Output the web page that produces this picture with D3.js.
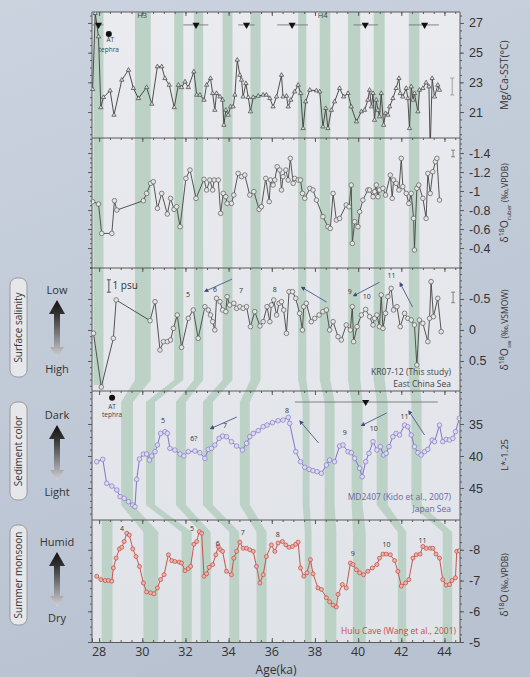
<!DOCTYPE html>
<html>
<head>
<meta charset="utf-8">
<script src="https://cdn.jsdelivr.net/npm/d3@7"></script>
<style>
  body { margin: 0; background: #c5cedb; }
  svg { display: block; font-family: "Open Sans", "Noto Sans", sans-serif; }
</style>
</head>
<body>
<svg id="chart" width="530" height="677"></svg>
<script>
// ---- values ----
const ageTicks = [28, 30, 32, 34, 36, 38, 40, 42, 44]

// Mg/Ca-SST (degC), KR07-12
const sstData = [[27.70,22.53],[27.82,27.65],[27.97,26.08],[28.08,21.31],[28.20,21.99],[28.51,22.44],[28.69,20.80],[29.05,23.16],[29.36,23.83],[29.59,22.60],[29.82,21.92],[30.20,22.66],[30.44,21.54],[30.70,24.06],[30.90,24.06],[31.05,23.27],[31.25,22.82],[31.48,21.31],[31.67,22.82],[31.82,22.66],[31.98,23.04],[32.13,22.66],[32.39,23.72],[32.52,22.15],[32.67,22.15],[32.86,21.81],[32.98,22.82],[33.16,23.27],[33.26,22.26],[33.36,21.13],[33.44,22.26],[33.60,22.03],[33.72,21.81],[33.78,20.12],[33.87,21.13],[33.98,20.80],[34.09,21.36],[34.21,21.36],[34.29,22.15],[34.40,24.51],[34.52,23.49],[34.60,23.16],[34.67,22.03],[34.80,22.93],[34.91,21.99],[35.01,21.03],[35.14,21.99],[35.37,22.08],[35.60,22.15],[35.75,22.15],[35.91,21.92],[36.06,21.36],[36.22,22.03],[36.45,23.49],[36.52,22.03],[36.68,22.08],[36.76,21.36],[36.88,21.81],[37.06,22.37],[37.22,22.82],[37.34,22.26],[37.45,19.90],[37.57,21.70],[37.76,22.48],[38.07,22.44],[38.22,22.37],[38.37,20.01],[38.50,21.25],[38.60,19.90],[38.76,21.13],[38.91,21.70],[39.14,22.60],[39.33,22.03],[39.53,22.26],[39.68,21.36],[39.92,20.35],[40.15,21.03],[40.30,21.13],[40.45,21.81],[40.53,22.48],[40.62,21.36],[40.69,22.26],[40.76,20.46],[40.84,21.81],[40.92,21.13],[40.99,20.69],[41.07,22.26],[41.18,20.12],[41.27,20.91],[41.38,20.80],[41.46,21.36],[41.61,21.92],[41.76,22.60],[41.89,23.27],[41.95,22.26],[42.07,22.03],[42.23,22.60],[42.30,21.92],[42.38,19.90],[42.46,22.71],[42.54,21.81],[42.61,22.26],[42.77,21.03],[42.84,22.48],[43.00,22.60],[43.15,22.98],[43.28,22.71],[43.34,18.50],[43.43,23.27],[43.54,22.03],[43.69,22.82],[43.77,22.48]]

// d18O G. ruber (permil VPDB)
const ruberData = [[27.70,-0.888],[27.97,-0.863],[28.12,-0.554],[28.59,-0.554],[28.71,-0.898],[28.82,-0.80],[30.05,-0.898],[30.20,-0.975],[30.39,-1.081],[30.51,-1.098],[30.70,-0.818],[30.90,-0.975],[31.16,-0.758],[31.31,-0.923],[31.47,-0.807],[31.59,-0.835],[31.75,-0.625],[32.02,-1.133],[32.21,-1.221],[32.49,-0.923],[32.86,-1.123],[32.98,-1.011],[33.13,-1.116],[33.26,-1.011],[33.33,-1.116],[33.52,-1.116],[33.63,-0.765],[33.75,-0.975],[33.87,-0.940],[33.93,-0.870],[34.13,-0.870],[34.24,-0.958],[34.44,-1.186],[34.60,-1.151],[34.75,-1.168],[34.98,-0.958],[35.17,-0.993],[35.41,-0.807],[35.52,-0.835],[35.72,-1.133],[35.88,-0.888],[35.94,-1.116],[36.06,-1.063],[36.14,-1.116],[36.25,-1.256],[36.37,-1.221],[36.45,-1.011],[36.52,-1.151],[36.65,-1.221],[36.76,-1.116],[36.86,-1.344],[36.99,-1.081],[37.06,-1.133],[37.22,-1.116],[37.33,-1.116],[37.42,-0.975],[37.53,-0.923],[37.76,-1.028],[37.91,-1.011],[38.07,-0.905],[38.37,-0.730],[38.60,-0.625],[38.71,-0.607],[38.84,-0.975],[38.99,-0.695],[39.14,-0.712],[39.45,-0.853],[39.58,-0.835],[39.68,-1.063],[39.73,-0.449],[39.84,-0.677],[39.99,-0.625],[40.07,-0.782],[40.22,-0.905],[40.45,-1.011],[40.53,-1.011],[40.69,-0.940],[40.76,-0.993],[40.84,-1.063],[40.92,-0.940],[40.99,-1.011],[41.15,-1.028],[41.27,-0.958],[41.49,-1.168],[41.58,-0.923],[41.64,-1.116],[41.76,-1.081],[41.89,-1.011],[42.00,-1.344],[42.07,-1.046],[42.23,-0.975],[42.35,-0.870],[42.46,-0.975],[42.57,-0.712],[42.61,-0.379],[42.72,-1.028],[42.81,-1.063],[43.00,-0.923],[43.15,-0.712],[43.23,-1.186],[43.34,-0.975],[43.46,-1.203],[43.58,-1.309],[43.65,-1.344],[43.77,-0.905]]

// d18O seawater (permil VSMOW)
const swData = [[27.74,0.054],[28.10,0.92],[28.66,0.134],[28.79,-0.484],[30.36,-0.151],[30.59,-0.457],[30.82,0.323],[30.98,0.188],[31.16,0.188],[31.31,0.161],[31.44,-0.027],[31.62,-0.242],[31.82,0.280],[32.13,-0.188],[32.36,-0.323],[32.59,0.134],[32.90,-0.376],[33.06,-0.323],[33.16,-0.242],[33.26,-0.134],[33.36,0],[33.44,-0.511],[33.60,-0.457],[33.72,-0.323],[33.87,-0.296],[33.93,-0.538],[34.05,-0.403],[34.24,-0.430],[34.37,-0.349],[34.52,-0.376],[34.67,-0.349],[34.83,-0.376],[35.01,-0.054],[35.21,-0.296],[35.45,-0.065],[35.60,-0.134],[35.78,-0.376],[35.91,-0.134],[35.98,-0.403],[36.09,-0.484],[36.22,-0.242],[36.34,-0.430],[36.45,-0.457],[36.55,-0.323],[36.68,0.054],[36.80,-0.618],[36.96,-0.618],[37.11,-0.511],[37.29,-0.269],[37.42,0],[37.48,-0.376],[37.60,-0.430],[37.83,-0.134],[37.99,-0.188],[38.19,-0.242],[38.37,-0.296],[38.53,-0.323],[38.68,0],[38.84,-0.134],[39.07,0.108],[39.22,0.161],[39.45,-0.081],[39.64,0],[39.73,-0.376],[39.79,0.188],[39.95,-0.054],[40.15,-0.242],[40.35,-0.333],[40.53,-0.215],[40.69,-0.081],[40.76,-0.188],[40.87,-0.242],[40.99,-0.054],[41.07,-0.565],[41.15,-0.027],[41.27,-0.269],[41.38,-0.538],[41.53,-0.672],[41.64,-0.323],[41.80,-0.376],[41.95,-0.054],[42.15,-0.269],[42.30,-0.188],[42.46,-0.161],[42.61,-0.081],[42.72,0.565],[42.84,-0.161],[43.00,-0.108],[43.23,0.188],[43.31,-0.188],[43.38,-0.780],[43.49,-0.215],[43.69,-0.511],[43.85,0.027]]

// sediment colour L*, MD2407
const lstarData = [[27.89,40.89],[28.17,40.52],[28.35,44.27],[28.59,44.69],[28.82,45.31],[28.97,46.35],[29.16,46.61],[29.36,47.14],[29.56,47.66],[29.66,47.92],[29.74,43.65],[29.87,40.47],[30.05,39.69],[30.20,39.69],[30.33,40.63],[30.44,40.0],[30.59,39.32],[30.70,38.28],[30.85,36.46],[31.05,36.20],[31.16,36.46],[31.28,38.80],[31.51,39.06],[31.75,39.69],[31.93,40.0],[32.13,39.32],[32.44,39.22],[32.67,39.48],[32.90,40.36],[33.06,38.96],[33.21,38.80],[33.36,38.28],[33.56,37.24],[33.72,36.88],[33.90,36.98],[34.13,37.76],[34.37,38.44],[34.64,39.06],[34.83,38.02],[34.98,36.98],[35.14,36.46],[35.37,36.04],[35.60,35.42],[35.78,35.16],[36.03,34.79],[36.29,34.48],[36.52,34.38],[36.76,33.96],[36.83,34.90],[37.11,39.32],[37.33,40.89],[37.53,41.77],[37.73,42.08],[37.91,42.29],[38.10,42.45],[38.30,42.71],[38.53,41.41],[38.68,40.63],[38.91,40.89],[39.14,38.44],[39.30,38.28],[39.53,39.32],[39.68,39.48],[39.84,40.36],[40.07,41.92],[40.19,43.23],[40.35,40.89],[40.50,39.58],[40.69,37.76],[40.87,39.06],[41.03,38.54],[41.18,39.84],[41.30,39.58],[41.43,38.54],[41.61,36.98],[41.76,36.46],[41.92,36.72],[42.15,35.16],[42.30,35.42],[42.46,36.72],[42.61,38.54],[42.77,39.48],[42.92,39.84],[43.08,39.32],[43.23,38.96],[43.43,37.50],[43.54,37.76],[43.77,35.16],[43.92,37.76],[44.08,37.40],[44.23,37.50],[44.39,37.24],[44.51,36.20],[44.69,34.11]]

// Hulu Cave d18O (permil VPDB)
const huluData = [[27.89,-7.14],[28.08,-7.03],[28.28,-7.0],[28.43,-7.0],[28.59,-6.98],[28.66,-7.41],[28.79,-7.73],[28.94,-8.03],[29.05,-8.08],[29.16,-8.27],[29.28,-8.54],[29.40,-8.48],[29.56,-8.03],[29.71,-7.78],[29.87,-7.46],[30.05,-6.92],[30.20,-6.63],[30.39,-6.60],[30.54,-6.57],[30.70,-6.76],[30.85,-7.03],[31.01,-7.19],[31.21,-7.84],[31.36,-7.65],[31.51,-7.62],[31.71,-7.60],[31.82,-7.57],[31.98,-7.32],[32.13,-7.39],[32.24,-7.46],[32.39,-8.18],[32.52,-8.27],[32.64,-8.59],[32.75,-8.54],[32.86,-7.14],[32.98,-7.22],[33.10,-7.43],[33.26,-7.52],[33.41,-7.84],[33.52,-8.11],[33.63,-8.0],[33.72,-7.95],[33.90,-7.30],[34.13,-7.19],[34.24,-7.73],[34.37,-7.95],[34.52,-8.25],[34.67,-8.05],[34.83,-8.05],[34.98,-8.0],[35.14,-7.95],[35.29,-7.46],[35.45,-6.92],[35.60,-7.19],[35.75,-7.78],[35.98,-8.16],[36.14,-7.95],[36.29,-8.22],[36.49,-8.27],[36.65,-8.16],[36.80,-8.08],[36.96,-8.11],[37.11,-8.18],[37.22,-8.25],[37.33,-7.41],[37.48,-7.14],[37.63,-7.25],[37.79,-7.68],[37.91,-7.22],[38.14,-6.76],[38.30,-6.71],[38.53,-6.44],[38.68,-6.31],[38.84,-6.20],[38.99,-6.14],[39.07,-6.55],[39.27,-6.87],[39.45,-6.76],[39.64,-7.57],[39.76,-7.52],[39.92,-7.35],[40.07,-7.25],[40.25,-7.19],[40.45,-7.30],[40.66,-7.41],[40.87,-7.52],[40.99,-7.73],[41.15,-7.86],[41.30,-7.86],[41.49,-7.84],[41.69,-7.65],[41.84,-7.30],[42.00,-6.82],[42.20,-6.92],[42.35,-7.03],[42.54,-7.73],[42.69,-7.84],[42.87,-7.86],[43.00,-8.11],[43.15,-8.05],[43.34,-8.05],[43.46,-8.05],[43.61,-7.86],[43.77,-7.73],[43.92,-7.03],[44.08,-6.85],[44.23,-6.87],[44.35,-7.0],[44.51,-7.09],[44.57,-7.95],[44.69,-7.97]]

// stadial bands (ka): KR07-12 age scale, MD2407 scale, Hulu scale
const bandsKR = [[27.74,28.20],[29.66,30.39],[31.48,31.90],[32.39,32.82],[33.72,34.18],[35.01,35.48],[37.22,37.60],[38.22,38.71],[39.53,40.10],[40.72,41.23],[42.35,42.84]]
const bandsMD = [null,[29.02,29.57],[30.17,30.59],[31.56,32.02],[32.81,33.27],[34.52,34.98],[37.43,37.75],[38.45,38.91],[39.70,40.21],[40.86,41.37],[42.47,42.94]]
const bandsHulu = [[28.12,28.62],[30.05,30.74],[31.82,32.29],[32.70,33.17],[34.03,34.49],[35.29,35.76],[37.53,37.84],[38.45,38.99],[39.76,40.35],[41.84,42.23],[43.92,44.36]]

// age control points: [min, max, centre]
const ageControl = [[27.70,28.20,27.97],[31.90,33.06,32.49],[34.44,35.21,34.83],[36.25,37.68,36.94],[39.79,40.92,40.33],[42.35,43.74,43.08]]
const mdControl = [37.07, 43.69, 40.35]

// interstadial numbers: [age, value, label]
const swEvents = [[32.12,-0.53,'5'],[33.37,-0.61,'6'],[34.57,-0.60,'7'],[36.14,-0.61,'8'],[39.61,-0.58,'9'],[40.40,-0.50,'10'],[41.55,-0.84,'11']]
const lstarEvents = [[30.96,34.84,'5'],[32.39,37.66,'6?'],[33.83,35.63,'7'],[36.70,33.28,'8'],[39.38,36.72,'9'],[40.72,36.09,'10'],[42.15,34.22,'11']]
const huluEvents = [[29.06,-8.61,'4'],[32.30,-8.61,'5'],[33.50,-8.13,'6'],[34.66,-8.48,'7'],[36.28,-8.42,'8'],[39.75,-7.81,'9'],[41.32,-8.10,'10'],[42.98,-8.23,'11']]

// correlation arrows: [age0, value0, age1, value1]
const swArrows = [[34.15,-0.82,32.95,-0.63],[38.54,-0.45,37.43,-0.68],[40.99,-0.77,39.84,-0.56],[42.52,-0.37,41.97,-0.74]]
const lstarArrows = [[34.38,33.91,33.22,35.63],[38.17,37.97,37.34,34.69],[41.32,33.28,40.21,35.16],[43.08,36.72,42.38,33.13]]

// analytical error bars: [age, low, high]
const sstErr = [44.36, 22.15, 23.29]
const ruberErr = [44.40, -1.43, -1.36]
const swErr = [44.40, -0.61, -0.44]

// ---- layout ----
const svg = d3.select('#chart')
const xL = 92, xR = 460
const x = d3.scaleLinear().domain([27.67, 44.72]).range([xL, xR])

const panels = [
  {data: sstData,   y0: 12,  y1: 138, dom: [19.25, 27.74], ticks: [21, 23, 25, 27], minor: 0.5,
   line: '#3c3c3c', mark: 'tri', mstroke: '#444', mfill: '#dcdcdc'},
  {data: ruberData, y0: 138, y1: 268, dom: [-0.19, -1.558], ticks: [-1.4, -1.2, -1, -0.8, -0.6, -0.4], minor: 0.05,
   line: '#444', mark: 'circle', mstroke: '#5a5a5a', mfill: '#e4e4e4'},
  {data: swData,    y0: 268, y1: 391, dom: [0.984, -1.0], ticks: [-0.5, 0, 0.5], minor: 0.1,
   line: '#444', mark: 'circle', mstroke: '#5a5a5a', mfill: '#e4e4e4'},
  {data: lstarData, y0: 391, y1: 520, dom: [50, 29.84], ticks: [35, 40, 45], minor: 1,
   line: '#7468c0', mark: 'circle', mstroke: '#8378c8', mfill: '#dcd8f0'},
  {data: huluData,  y0: 520, y1: 642, dom: [-5.0, -8.97], ticks: [-8, -7, -6, -5], minor: 0.25,
   line: '#c4473e', mark: 'circle', mstroke: '#c4473e', mfill: '#eab4ac'}
]
panels.forEach(p => { p.y = d3.scaleLinear().domain(p.dom).range([p.y1, p.y0]) })

const defs = svg.append('defs')
const bgGrad = defs.append('linearGradient').attr('id', 'bg').attr('x1', 0).attr('y1', 0).attr('x2', 0.3).attr('y2', 1)
bgGrad.append('stop').attr('offset', 0).attr('stop-color', '#cbd3df')
bgGrad.append('stop').attr('offset', 1).attr('stop-color', '#b9c2d1')
const plotGrad = defs.append('linearGradient').attr('id', 'plotbg').attr('x1', 0).attr('y1', 0).attr('x2', 0).attr('y2', 1)
plotGrad.append('stop').attr('offset', 0).attr('stop-color', '#eaebef')
plotGrad.append('stop').attr('offset', 1).attr('stop-color', '#e0e3e8')
const arrGrad = defs.append('linearGradient').attr('id', 'arr').attr('x1', 0).attr('y1', 0).attr('x2', 0).attr('y2', 1)
arrGrad.append('stop').attr('offset', 0).attr('stop-color', '#111')
arrGrad.append('stop').attr('offset', 0.25).attr('stop-color', '#333')
arrGrad.append('stop').attr('offset', 1).attr('stop-color', '#d4d4d8')
defs.append('marker').attr('id', 'head').attr('viewBox', '0 0 10 10').attr('refX', 5).attr('refY', 5)
  .attr('markerWidth', 5).attr('markerHeight', 5).attr('orient', 'auto')
  .append('path').attr('d', 'M0,0L10,5L0,10z').attr('fill', '#3f4c7c')
panels.forEach((p, i) => {
  defs.append('clipPath').attr('id', 'clip' + i)
    .append('rect').attr('x', xL).attr('y', p.y0).attr('width', xR - xL).attr('height', p.y1 - p.y0)
})

svg.append('rect').attr('width', 530).attr('height', 677).attr('fill', 'url(#bg)')
svg.append('rect').attr('x', xL).attr('y', 12).attr('width', xR - xL).attr('height', 630).attr('fill', 'url(#plotbg)')

// ---- bands ----
const bTop = 12, bA = 380, bB = 402, bC = 505, bD = 532, bBot = 642
const bandG = svg.append('g').attr('fill', '#bcd2c6')
bandsKR.forEach((k, i) => {
  const m = bandsMD[i], h = bandsHulu[i]
  if (m) {
    const pts = [[x(k[0]), bTop], [x(k[0]), bA], [x(m[0]), bB], [x(m[0]), bC], [x(h[0]), bD], [x(h[0]), bBot],
                 [x(h[1]), bBot], [x(h[1]), bD], [x(m[1]), bC], [x(m[1]), bB], [x(k[1]), bA], [x(k[1]), bTop]]
    bandG.append('polygon').attr('points', pts.join(' '))
  } else {
    bandG.append('polygon').attr('points', [[x(k[0]), bTop], [x(k[0]), 385], [x(k[1]), 385], [x(k[1]), bTop]].join(' '))
    bandG.append('polygon').attr('points', [[x(h[0]), 520], [x(h[0]), bBot], [x(h[1]), bBot], [x(h[1]), 520]].join(' '))
  }
})

// ---- frame, axes ----
const axisCol = '#5a5a5a'
const fmt = d => String(+d.toFixed(2))
panels.forEach(p => {
  const lo = Math.min(...p.dom), hi = Math.max(...p.dom)
  const minorVals = d3.range(Math.ceil(lo / p.minor) * p.minor, hi, p.minor)
  const gR = svg.append('g').attr('transform', `translate(${xR},0)`)
    .call(d3.axisRight(p.y).tickValues(p.ticks).tickSize(4).tickPadding(5).tickFormat(fmt))
  gR.select('.domain').remove()
  gR.selectAll('line').attr('stroke', axisCol)
  gR.selectAll('text').attr('fill', '#333').style('font-size', '12.5px').attr('font-family', null)
  svg.append('g').attr('transform', `translate(${xR},0)`)
    .call(d3.axisRight(p.y).tickValues(minorVals).tickSize(2).tickFormat(''))
    .call(g => g.select('.domain').remove()).selectAll('line').attr('stroke', axisCol)
  const gL = svg.append('g').attr('transform', `translate(${xL},0)`)
    .call(d3.axisLeft(p.y).tickValues(p.ticks).tickSize(4).tickFormat(''))
  gL.select('.domain').remove()
  gL.selectAll('line').attr('stroke', axisCol)
  svg.append('g').attr('transform', `translate(${xL},0)`)
    .call(d3.axisLeft(p.y).tickValues(minorVals).tickSize(2).tickFormat(''))
    .call(g => g.select('.domain').remove()).selectAll('line').attr('stroke', axisCol)
  // top ticks of each panel (age)
  svg.append('g').attr('transform', `translate(0,${p.y0})`)
    .call(d3.axisBottom(x).tickValues(ageTicks).tickSize(4).tickFormat(''))
    .call(g => g.select('.domain').remove()).selectAll('line').attr('stroke', axisCol)
  svg.append('g').attr('transform', `translate(0,${p.y0})`)
    .call(d3.axisBottom(x).tickValues(d3.range(28, 44.6, 0.5)).tickSize(2).tickFormat(''))
    .call(g => g.select('.domain').remove()).selectAll('line').attr('stroke', axisCol)
  svg.append('line').attr('x1', xL).attr('x2', xR).attr('y1', p.y0).attr('y2', p.y0)
    .attr('stroke', axisCol).attr('stroke-width', 1)
})
svg.append('line').attr('x1', xL).attr('x2', xL).attr('y1', 12).attr('y2', 642).attr('stroke', axisCol)
svg.append('line').attr('x1', xR).attr('x2', xR).attr('y1', 12).attr('y2', 642).attr('stroke', axisCol)
const gx = svg.append('g').attr('transform', 'translate(0,642)')
  .call(d3.axisTop(x).tickValues(ageTicks).tickSize(4).tickFormat(''))
gx.select('.domain').attr('stroke', axisCol)
gx.selectAll('line').attr('stroke', axisCol)
svg.append('g').attr('transform', 'translate(0,642)')
  .call(d3.axisTop(x).tickValues(d3.range(28, 44.6, 0.5)).tickSize(2).tickFormat(''))
  .call(g => g.select('.domain').remove()).selectAll('line').attr('stroke', axisCol)
svg.append('g').selectAll('text').data(ageTicks).join('text')
  .attr('x', d => x(d)).attr('y', 656).attr('text-anchor', 'middle')
  .attr('fill', '#333').style('font-size', '12.5px').text(d => d)
svg.append('text').attr('x', 276).attr('y', 674).attr('text-anchor', 'middle')
  .attr('fill', '#333').style('font-size', '12px').text('Age(ka)')

// ---- series ----
panels.forEach((p, i) => {
  const g = svg.append('g').attr('clip-path', `url(#clip${i})`)
  const line = d3.line().x(d => x(d[0])).y(d => p.y(d[1]))
  g.append('path').datum(p.data).attr('d', line).attr('fill', 'none')
    .attr('stroke', p.line).attr('stroke-width', 0.9)
  if (p.mark === 'tri') {
    g.selectAll('path.m').data(p.data).join('path').attr('class', 'm')
      .attr('d', d3.symbol(d3.symbolTriangle, 8))
      .attr('transform', d => `translate(${x(d[0])},${p.y(d[1])})`)
      .attr('fill', p.mfill).attr('stroke', p.mstroke).attr('stroke-width', 0.7)
  } else {
    g.selectAll('circle').data(p.data).join('circle')
      .attr('cx', d => x(d[0])).attr('cy', d => p.y(d[1])).attr('r', i === 4 ? 2 : 2.3)
      .attr('fill', p.mfill).attr('stroke', p.mstroke).attr('stroke-width', 0.7)
  }
})

// ---- annotations ----
const [pS, pR, pW, pL, pH] = panels
const small = (t, xx, yy, size, col, anchor) => svg.append('text').attr('x', xx).attr('y', yy)
  .attr('text-anchor', anchor || 'middle').attr('fill', col || '#333').style('font-size', size + 'px').text(t)

// age control error bars (top panel)
ageControl.forEach(a => {
  const yy = pS.y(26.87)
  svg.append('line').attr('x1', x(a[0])).attr('x2', x(a[1])).attr('y1', yy).attr('y2', yy)
    .attr('stroke', '#777').attr('stroke-width', 0.9)
  svg.append('path').attr('d', d3.symbol(d3.symbolTriangle, 22))
    .attr('transform', `translate(${x(a[2])},${yy}) rotate(180)`).attr('fill', '#111')
})
svg.append('circle').attr('cx', x(28.45)).attr('cy', pS.y(26.26)).attr('r', 3).attr('fill', '#111')
small('AT', x(28.52), pS.y(25.7), 6.5, '#444')
small('tephra', x(28.45), pS.y(25.05), 6.5, '#444')
small('H3', x(29.99), pS.y(27.34), 7.5, '#444')
small('H4', x(38.36), pS.y(27.34), 7.5, '#444')

// analytical error bars
;[[pS, sstErr, '#9a9a9a'], [pR, ruberErr, '#777'], [pW, swErr, '#777']].forEach(([p, e, c]) => {
  const xx = x(e[0])
  svg.append('path').attr('d', `M${xx},${p.y(e[1])}V${p.y(e[2])}M${xx - 2},${p.y(e[1])}h4M${xx - 2},${p.y(e[2])}h4`)
    .attr('stroke', c).attr('fill', 'none').attr('stroke-width', 0.9)
})

// 1 psu scale bar
svg.append('path').attr('d', `M${x(28.45)},${pW.y(-0.81)}V${pW.y(-0.61)}M${x(28.45) - 2},${pW.y(-0.81)}h4M${x(28.45) - 2},${pW.y(-0.61)}h4`)
  .attr('stroke', '#444').attr('fill', 'none').attr('stroke-width', 0.9)
small('1 psu', x(28.62), pW.y(-0.66), 10, '#333', 'start')

swEvents.forEach(e => small(e[2], x(e[0]), pW.y(e[1]), 7, '#333'))
lstarEvents.forEach(e => small(e[2], x(e[0]), pL.y(e[1]), 7, '#333'))
huluEvents.forEach(e => small(e[2], x(e[0]), pH.y(e[1]), 7, '#333'))
;[[pW, swArrows], [pL, lstarArrows]].forEach(([p, arr]) => {
  arr.forEach(a => svg.append('line').attr('x1', x(a[0])).attr('y1', p.y(a[1])).attr('x2', x(a[2])).attr('y2', p.y(a[3]))
    .attr('stroke', '#4a5888').attr('stroke-width', 0.9).attr('marker-end', 'url(#head)'))
})

small('KR07-12 (This study)', 451, 375, 8.5, '#444', 'end')
small('East China Sea', 451, 387, 8.5, '#444', 'end')

// MD2407 panel
{
  const yy = pL.y(31.56)
  svg.append('line').attr('x1', x(mdControl[0])).attr('x2', x(mdControl[1])).attr('y1', yy).attr('y2', yy)
    .attr('stroke', '#777').attr('stroke-width', 0.9)
  svg.append('path').attr('d', d3.symbol(d3.symbolTriangle, 22))
    .attr('transform', `translate(${x(mdControl[2])},${yy}) rotate(180)`).attr('fill', '#111')
  svg.append('circle').attr('cx', x(28.60)).attr('cy', pL.y(30.9)).attr('r', 3).attr('fill', '#111')
  small('AT', x(28.60), pL.y(32.6), 6.5, '#444')
  small('tephra', x(28.60), pL.y(33.9), 6.5, '#444')
}
small('MD2407 (Kido et al., 2007)', 451, 500, 8.5, '#6e66a8', 'end')
small('Japan Sea', 451, 512, 8.5, '#6e66a8', 'end')
small('Hulu Cave (Wang et al., 2001)', 456, 634, 8.5, '#c84a44', 'end')

// ---- right axis titles ----
const vtitle = (cy, build) => {
  const t = svg.append('text').attr('transform', `translate(508,${cy}) rotate(-90)`)
    .attr('text-anchor', 'middle').attr('fill', '#333').style('font-size', '10.5px')
  build(t)
}
vtitle(75, t => t.text('Mg/Ca-SST(°C)'))
vtitle(203, t => {
  t.append('tspan').text('δ')
  t.append('tspan').attr('dy', -4).style('font-size', '7px').text('18')
  t.append('tspan').attr('dy', 4).text('O')
  t.append('tspan').attr('dy', 3).style('font-size', '6px').text('ruber')
  t.append('tspan').attr('dy', -3).style('font-size', '8.5px').text(' (‰,VPDB)')
})
vtitle(330, t => {
  t.append('tspan').text('δ')
  t.append('tspan').attr('dy', -4).style('font-size', '7px').text('18')
  t.append('tspan').attr('dy', 4).text('O')
  t.append('tspan').attr('dy', 3).style('font-size', '6px').text('sw')
  t.append('tspan').attr('dy', -3).style('font-size', '8.5px').text(' (‰,VSMOW)')
})
vtitle(455, t => t.style('font-size', '9.5px').text('L*-1.25'))
vtitle(585, t => {
  t.append('tspan').text('δ')
  t.append('tspan').attr('dy', -4).style('font-size', '7px').text('18')
  t.append('tspan').attr('dy', 4).text('O')
  t.append('tspan').style('font-size', '8.5px').text(' (‰,VPDB)')
})

// ---- left legends ----
const legends = [
  {title: 'Surface salinity', top: 'Low', bottom: 'High', y0: 278, y1: 377, tip0: 300, tip1: 358},
  {title: 'Sediment color', top: 'Dark', bottom: 'Light', y0: 402, y1: 500, tip0: 425, tip1: 481},
  {title: 'Summer monsoon', top: 'Humid', bottom: 'Dry', y0: 525, y1: 625, tip0: 552, tip1: 607}
]
legends.forEach(l => {
  svg.append('rect').attr('x', 10).attr('y', l.y0).attr('width', 17).attr('height', l.y1 - l.y0)
    .attr('rx', 7).attr('fill', '#e6e7eb').attr('stroke', '#8a8a8a').attr('stroke-width', 0.8)
  svg.append('text').attr('transform', `translate(22,${(l.y0 + l.y1) / 2}) rotate(-90)`)
    .attr('text-anchor', 'middle').attr('fill', '#333').style('font-size', '10px').text(l.title)
  const cx = 57, t = l.tip0, b = l.tip1
  const pts = [[cx, t], [cx + 8, t + 14], [cx + 3, t + 14], [cx + 3, b - 11], [cx + 7, b - 11], [cx, b],
               [cx - 7, b - 11], [cx - 3, b - 11], [cx - 3, t + 14], [cx - 8, t + 14]]
  svg.append('polygon').attr('points', pts.join(' ')).attr('fill', 'url(#arr)')
  small(l.top, cx, l.tip0 - 6, 11, '#333')
  small(l.bottom, cx, l.tip1 + 15, 11, '#333')
})
</script>
</body>
</html>
